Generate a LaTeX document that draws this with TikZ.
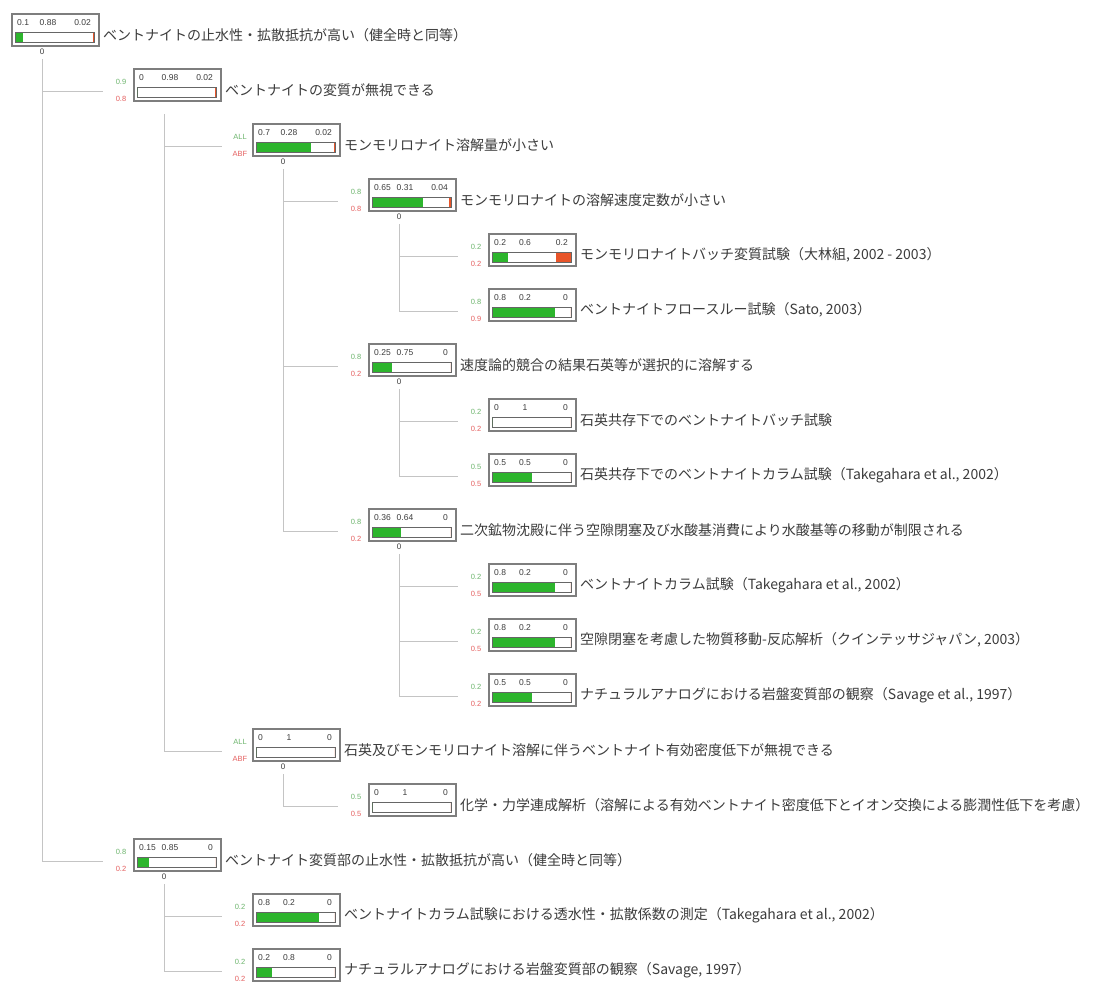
\documentclass[tikz,border=0pt]{standalone}
\usepackage{fontspec}
\newfontfamily\jpfont{Noto Sans CJK JP}
\newfontfamily\numfont{Liberation Sans}
\definecolor{barGreen}{HTML}{2DB52D}
\definecolor{barRed}{HTML}{E8552A}
\definecolor{lblGreen}{HTML}{6DB56D}
\definecolor{lblRed}{HTML}{E56060}
\definecolor{treeLine}{HTML}{C4C4C4}
\definecolor{frameGray}{HTML}{7E7E7E}
\definecolor{txtGray}{HTML}{3C3C3C}
\tikzset{
  evframe/.style={draw=frameGray, line width=1.6pt, minimum width=87pt,
    minimum height=32pt, inner sep=0pt, fill=white},
  numtxt/.style={font=\numfont\fontsize{8.5}{9}\selectfont, text=txtGray, inner sep=0pt},
  lblg/.style={font=\numfont\fontsize{7.5}{8}\selectfont, text=lblGreen, inner sep=0pt},
  lblr/.style={font=\numfont\fontsize{7.5}{8}\selectfont, text=lblRed, inner sep=0pt},
  claim/.style={font=\jpfont\fontsize{14}{16}\selectfont, text=txtGray,
    anchor=west, inner sep=0pt},
  barframe/.style={draw=black!60, line width=0.8pt, fill=white},
  stemnum/.style={font=\numfont\fontsize{8}{9}\selectfont, text=txtGray, inner sep=0pt},
  tree/.style={draw=treeLine, line width=0.9pt},
}
% #1 name, #2 left x, #3 row y, #4-#6 the three values, #7/#8 side labels, #9 statement
\newcommand{\evnode}[9]{%
  \node[evframe, anchor=north west] (#1) at (#2,#3-22) {};
  \node[numtxt, anchor=west] (#1-p1) at (#2+6,#3-12) {#4};
  \node[numtxt] (#1-p2) at (#2+37,#3-12) {#5};
  \node[numtxt, anchor=east] (#1-p3) at (#2+80,#3-12) {#6};
  \draw[barframe] (#2+4,#3-3) rectangle (#2+83,#3+7);
  \fill[barGreen] (#2+4.5,#3-2.5) rectangle ++(78*#4,9);
  \fill[barRed] (#2+82.5,#3-2.5) rectangle ++({-max(0,78*#6-1.2)},9);
  \node[lblg] (#1-g) at (#2-12,#3-8) {#7};
  \node[lblr] (#1-r) at (#2-12,#3+9) {#8};
  \node[claim] (#1-t) at (#2+92,#3) {#9};
  \coordinate (#1-port) at (#2-30,#3+1);
  \coordinate (#1-stem) at (#2+31,#3+24);
}
\newcommand{\evzero}[3]{\node[stemnum] (#1-z) at (#2+31,#3+17) {0};}
\begin{document}
\begin{tikzpicture}[x=1pt,y=-1pt]
\useasboundingbox (0,0) rectangle (1112,983);
\fill[white] (0,0) rectangle (1112,983);

\evnode{root}{11}{35}{0.1}{0.88}{0.02}{}{}{ベントナイトの止水性・拡散抵抗が高い（健全時と同等）}
\evzero{root}{11}{35}
\evnode{alt}{133}{90}{0}{0.98}{0.02}{0.9}{0.8}{ベントナイトの変質が無視できる}
\evnode{dis}{252}{145}{0.7}{0.28}{0.02}{ALL}{ABF}{モンモリロナイト溶解量が小さい}
\evzero{dis}{252}{145}
\evnode{rate}{368}{200}{0.65}{0.31}{0.04}{0.8}{0.8}{モンモリロナイトの溶解速度定数が小さい}
\evzero{rate}{368}{200}
\evnode{batch}{488}{255}{0.2}{0.6}{0.2}{0.2}{0.2}{モンモリロナイトバッチ変質試験（大林組, 2002 - 2003）}
\evnode{flow}{488}{310}{0.8}{0.2}{0}{0.8}{0.9}{ベントナイトフロースルー試験（Sato, 2003）}
\evnode{kin}{368}{365}{0.25}{0.75}{0}{0.8}{0.2}{速度論的競合の結果石英等が選択的に溶解する}
\evzero{kin}{368}{365}
\evnode{qbatch}{488}{420}{0}{1}{0}{0.2}{0.2}{石英共存下でのベントナイトバッチ試験}
\evnode{qcol}{488}{475}{0.5}{0.5}{0}{0.5}{0.5}{石英共存下でのベントナイトカラム試験（Takegahara et al., 2002）}
\evnode{sec}{368}{530}{0.36}{0.64}{0}{0.8}{0.2}{二次鉱物沈殿に伴う空隙閉塞及び水酸基消費により水酸基等の移動が制限される}
\evzero{sec}{368}{530}
\evnode{col}{488}{585}{0.8}{0.2}{0}{0.2}{0.5}{ベントナイトカラム試験（Takegahara et al., 2002）}
\evnode{pore}{488}{640}{0.8}{0.2}{0}{0.2}{0.5}{空隙閉塞を考慮した物質移動-反応解析（クインテッサジャパン, 2003）}
\evnode{nat}{488}{695}{0.5}{0.5}{0}{0.2}{0.2}{ナチュラルアナログにおける岩盤変質部の観察（Savage et al., 1997）}
\evnode{dens}{252}{750}{0}{1}{0}{ALL}{ABF}{石英及びモンモリロナイト溶解に伴うベントナイト有効密度低下が無視できる}
\evzero{dens}{252}{750}
\evnode{chm}{368}{805}{0}{1}{0}{0.5}{0.5}{化学・力学連成解析（溶解による有効ベントナイト密度低下とイオン交換による膨潤性低下を考慮）}
\evnode{altz}{133}{860}{0.15}{0.85}{0}{0.8}{0.2}{ベントナイト変質部の止水性・拡散抵抗が高い（健全時と同等）}
\evzero{altz}{133}{860}
\evnode{perm}{252}{915}{0.8}{0.2}{0}{0.2}{0.2}{ベントナイトカラム試験における透水性・拡散係数の測定（Takegahara et al., 2002）}
\evnode{nat2}{252}{970}{0.2}{0.8}{0}{0.2}{0.2}{ナチュラルアナログにおける岩盤変質部の観察（Savage, 1997）}

% connectors of the tree
\draw[tree] (root-stem) |- (alt-port);
\draw[tree] (root-stem) |- (altz-port);
\draw[tree] (alt-stem) |- (dis-port);
\draw[tree] (alt-stem) |- (dens-port);
\draw[tree] (dis-stem) |- (rate-port);
\draw[tree] (dis-stem) |- (kin-port);
\draw[tree] (dis-stem) |- (sec-port);
\draw[tree] (rate-stem) |- (batch-port);
\draw[tree] (rate-stem) |- (flow-port);
\draw[tree] (kin-stem) |- (qbatch-port);
\draw[tree] (kin-stem) |- (qcol-port);
\draw[tree] (sec-stem) |- (col-port);
\draw[tree] (sec-stem) |- (pore-port);
\draw[tree] (sec-stem) |- (nat-port);
\draw[tree] (dens-stem) |- (chm-port);
\draw[tree] (altz-stem) |- (perm-port);
\draw[tree] (altz-stem) |- (nat2-port);
\end{tikzpicture}
\end{document}
